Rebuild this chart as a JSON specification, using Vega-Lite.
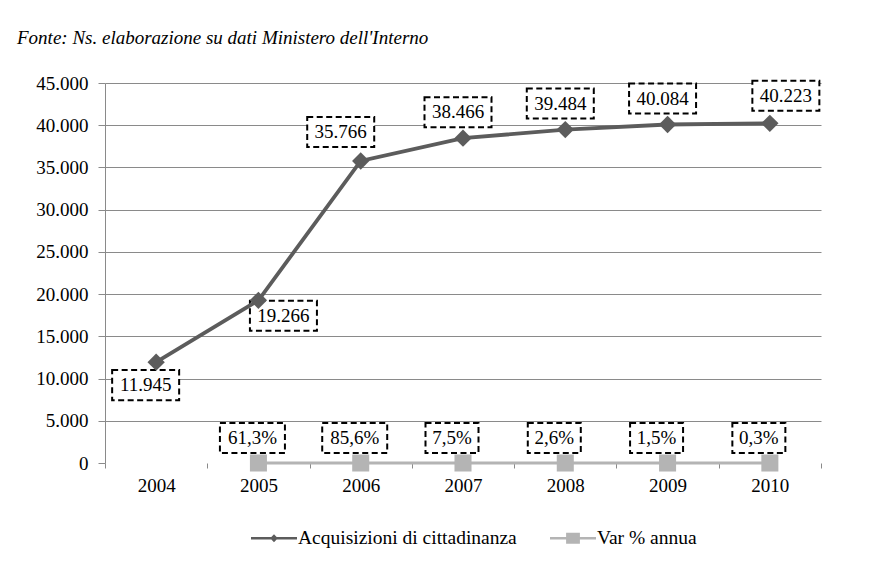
{
  "$schema": "https://vega.github.io/schema/vega-lite/v6.json",
  "config": {
    "locale": {"number": {"decimal": ",", "thousands": ".", "grouping": [3], "currency": ["€", ""]}},
    "font": "'Liberation Serif', 'Times New Roman', 'DejaVu Serif', serif",
    "view": {"stroke": null},
    "background": "white"
  },
  "autosize": {"type": "none"},
  "width": 716,
  "height": 380,
  "padding": {"left": 105, "top": 83, "right": 60, "bottom": 113},
  "title": {
    "text": "Fonte: Ns. elaborazione su dati Ministero dell'Interno",
    "anchor": "start",
    "frame": "group",
    "dx": -88,
    "offset": 26,
    "font": "'Liberation Serif', 'Times New Roman', 'DejaVu Serif', serif",
    "fontStyle": "italic",
    "fontWeight": "normal",
    "fontSize": 19,
    "color": "black"
  },
  "data": {
    "values": [
      {"year": "2004", "series": "Acquisizioni di cittadinanza", "value": 11945},
      {"year": "2005", "series": "Acquisizioni di cittadinanza", "value": 19266},
      {"year": "2006", "series": "Acquisizioni di cittadinanza", "value": 35766},
      {"year": "2007", "series": "Acquisizioni di cittadinanza", "value": 38466},
      {"year": "2008", "series": "Acquisizioni di cittadinanza", "value": 39484},
      {"year": "2009", "series": "Acquisizioni di cittadinanza", "value": 40084},
      {"year": "2010", "series": "Acquisizioni di cittadinanza", "value": 40223},
      {"year": "2005", "series": "Var % annua", "value": 0.613},
      {"year": "2006", "series": "Var % annua", "value": 0.856},
      {"year": "2007", "series": "Var % annua", "value": 0.075},
      {"year": "2008", "series": "Var % annua", "value": 0.026},
      {"year": "2009", "series": "Var % annua", "value": 0.015},
      {"year": "2010", "series": "Var % annua", "value": 0.003}
    ]
  },
  "encoding": {
    "x": {
      "field": "year",
      "type": "ordinal",
      "scale": {"type": "band", "paddingInner": 0, "paddingOuter": 0},
      "bandPosition": 0.5,
      "title": null,
      "axis": {
        "labelAngle": 0,
        "tickBand": "extent",
        "domain": false,
        "tickColor": "#8a8a8a",
        "tickSize": 5,
        "labelFont": "'Liberation Serif', 'Times New Roman', 'DejaVu Serif', serif",
        "labelFontSize": 19,
        "labelColor": "black",
        "labelPadding": 8
      }
    },
    "y": {
      "field": "value",
      "type": "quantitative",
      "scale": {"domain": [0, 45000], "nice": false},
      "title": null,
      "axis": {
        "values": [0, 5000, 10000, 15000, 20000, 25000, 30000, 35000, 40000, 45000],
        "format": ",.0f",
        "domainColor": "#8a8a8a",
        "tickColor": "#8a8a8a",
        "tickSize": 7,
        "gridColor": "#8a8a8a",
        "gridOpacity": {"condition": {"test": "datum.value === 0", "value": 0}, "value": 1},
        "labelFont": "'Liberation Serif', 'Times New Roman', 'DejaVu Serif', serif",
        "labelFontSize": 19,
        "labelColor": "black",
        "labelPadding": 10
      }
    }
  },
  "layer": [
    {
      "transform": [{"filter": "datum.series === 'Acquisizioni di cittadinanza' && datum.year === '2004'"}],
      "layer": [
        {"mark": {"type": "point", "shape": "M-1,-0.448L1,-0.448L1,0.448L-1,0.448Z", "size": 4489, "filled": false, "fill": "white", "fillOpacity": 1, "stroke": "black", "strokeWidth": 2, "strokeDash": [6, 3.5], "opacity": 1, "xOffset": -10.5, "yOffset": 23}},
        {"mark": {"type": "text", "dx": -10.5, "dy": 23, "fontSize": 19, "font": "'Liberation Serif', 'Times New Roman', 'DejaVu Serif', serif", "baseline": "middle", "align": "center", "color": "black"}, "encoding": {"text": {"field": "value", "type": "quantitative", "format": ",.0f"}}}
      ]
    },
    {
      "transform": [{"filter": "datum.series === 'Acquisizioni di cittadinanza' && datum.year === '2005'"}],
      "layer": [
        {"mark": {"type": "point", "shape": "M-1,-0.448L1,-0.448L1,0.448L-1,0.448Z", "size": 4489, "filled": false, "fill": "white", "fillOpacity": 1, "stroke": "black", "strokeWidth": 2, "strokeDash": [6, 3.5], "opacity": 1, "xOffset": 25, "yOffset": 15.5}},
        {"mark": {"type": "text", "dx": 25, "dy": 15.5, "fontSize": 19, "font": "'Liberation Serif', 'Times New Roman', 'DejaVu Serif', serif", "baseline": "middle", "align": "center", "color": "black"}, "encoding": {"text": {"field": "value", "type": "quantitative", "format": ",.0f"}}}
      ]
    },
    {
      "transform": [{"filter": "datum.series === 'Acquisizioni di cittadinanza' && datum.year === '2006'"}],
      "layer": [
        {"mark": {"type": "point", "shape": "M-1,-0.448L1,-0.448L1,0.448L-1,0.448Z", "size": 4489, "filled": false, "fill": "white", "fillOpacity": 1, "stroke": "black", "strokeWidth": 2, "strokeDash": [6, 3.5], "opacity": 1, "xOffset": -20, "yOffset": -29}},
        {"mark": {"type": "text", "dx": -20, "dy": -29, "fontSize": 19, "font": "'Liberation Serif', 'Times New Roman', 'DejaVu Serif', serif", "baseline": "middle", "align": "center", "color": "black"}, "encoding": {"text": {"field": "value", "type": "quantitative", "format": ",.0f"}}}
      ]
    },
    {
      "transform": [{"filter": "datum.series === 'Acquisizioni di cittadinanza' && (datum.year === '2007' || datum.year === '2008' || datum.year === '2009')"}],
      "layer": [
        {"mark": {"type": "point", "shape": "M-1,-0.448L1,-0.448L1,0.448L-1,0.448Z", "size": 4489, "filled": false, "fill": "white", "fillOpacity": 1, "stroke": "black", "strokeWidth": 2, "strokeDash": [6, 3.5], "opacity": 1, "xOffset": -5, "yOffset": -26}},
        {"mark": {"type": "text", "dx": -5, "dy": -26, "fontSize": 19, "font": "'Liberation Serif', 'Times New Roman', 'DejaVu Serif', serif", "baseline": "middle", "align": "center", "color": "black"}, "encoding": {"text": {"field": "value", "type": "quantitative", "format": ",.0f"}}}
      ]
    },
    {
      "transform": [{"filter": "datum.series === 'Acquisizioni di cittadinanza' && datum.year === '2010'"}],
      "layer": [
        {"mark": {"type": "point", "shape": "M-1,-0.448L1,-0.448L1,0.448L-1,0.448Z", "size": 4489, "filled": false, "fill": "white", "fillOpacity": 1, "stroke": "black", "strokeWidth": 2, "strokeDash": [6, 3.5], "opacity": 1, "xOffset": 16, "yOffset": -27.5}},
        {"mark": {"type": "text", "dx": 16, "dy": -27.5, "fontSize": 19, "font": "'Liberation Serif', 'Times New Roman', 'DejaVu Serif', serif", "baseline": "middle", "align": "center", "color": "black"}, "encoding": {"text": {"field": "value", "type": "quantitative", "format": ",.0f"}}}
      ]
    },
    {
      "transform": [{"filter": "datum.series === 'Var % annua' && (datum.year === '2005' || datum.year === '2006')"}],
      "layer": [
        {"mark": {"type": "point", "shape": "M-1,-0.4615L1,-0.4615L1,0.4615L-1,0.4615Z", "size": 4225, "filled": false, "fill": "white", "fillOpacity": 1, "stroke": "black", "strokeWidth": 2, "strokeDash": [6, 3.5], "opacity": 1, "xOffset": -6, "yOffset": -25}},
        {"mark": {"type": "text", "dx": -6, "dy": -25, "fontSize": 19, "font": "'Liberation Serif', 'Times New Roman', 'DejaVu Serif', serif", "baseline": "middle", "align": "center", "color": "black"}, "encoding": {"text": {"field": "value", "type": "quantitative", "format": ".1%"}}}
      ]
    },
    {
      "transform": [{"filter": "datum.series === 'Var % annua' && datum.year !== '2005' && datum.year !== '2006'"}],
      "layer": [
        {"mark": {"type": "point", "shape": "M-1,-0.566L1,-0.566L1,0.566L-1,0.566Z", "size": 2809, "filled": false, "fill": "white", "fillOpacity": 1, "stroke": "black", "strokeWidth": 2, "strokeDash": [6, 3.5], "opacity": 1, "xOffset": -11, "yOffset": -25}},
        {"mark": {"type": "text", "dx": -11, "dy": -25, "fontSize": 19, "font": "'Liberation Serif', 'Times New Roman', 'DejaVu Serif', serif", "baseline": "middle", "align": "center", "color": "black"}, "encoding": {"text": {"field": "value", "type": "quantitative", "format": ".1%"}}}
      ]
    },
    {
      "transform": [{"filter": "datum.series === 'Var % annua'"}],
      "mark": {"type": "line", "strokeWidth": 3, "color": "#b4b4b4"}
    },
    {
      "transform": [{"filter": "datum.series === 'Acquisizioni di cittadinanza'"}],
      "mark": {"type": "line", "strokeWidth": 3.8, "color": "#5c5c5c"}
    },
    {
      "transform": [{"filter": "datum.series === 'Acquisizioni di cittadinanza'"}],
      "mark": {"type": "point", "filled": true, "size": 300, "opacity": 1, "shape": "diamond", "color": "#5c5c5c"}
    },
    {
      "transform": [{"filter": "datum.series === 'Var % annua'"}],
      "mark": {"type": "point", "filled": true, "size": 290, "opacity": 1, "shape": "square", "color": "#b4b4b4"}
    },
    {
      "transform": [{"filter": "datum.year === 'none'"}],
      "mark": {"type": "point", "filled": true, "opacity": 1, "strokeWidth": 0},
      "encoding": {
        "color": {
          "field": "series",
          "type": "nominal",
          "scale": {"domain": ["Acquisizioni di cittadinanza", "Var % annua"], "range": ["#5c5c5c", "#b4b4b4"]},
          "legend": {
            "orient": "none",
            "legendX": 146,
            "legendY": 432,
            "direction": "horizontal",
            "title": null,
            "symbolSize": 2116,
            "labelFont": "'Liberation Serif', 'Times New Roman', 'DejaVu Serif', serif",
            "labelFontSize": 19.5,
            "labelColor": "black",
            "labelLimit": 400,
            "columnPadding": 33,
            "labelOffset": 1,
            "symbolStrokeWidth": 0
          }
        },
        "shape": {
          "field": "series",
          "type": "nominal",
          "scale": {
            "domain": ["Acquisizioni di cittadinanza", "Var % annua"],
            "range": [
              "M-1,-0.055L-0.115,-0.055L0,-0.17L0.115,-0.055L1,-0.055L1,0.055L0.115,0.055L0,0.17L-0.115,0.055L-1,0.055Z",
              "M-1,-0.055L-0.3,-0.055L-0.3,-0.24L0.3,-0.24L0.3,-0.055L1,-0.055L1,0.055L0.3,0.055L0.3,0.24L-0.3,0.24L-0.3,0.055L-1,0.055Z"
            ]
          },
          "legend": {
            "orient": "none",
            "legendX": 146,
            "legendY": 432,
            "direction": "horizontal",
            "title": null,
            "symbolSize": 2116,
            "labelFont": "'Liberation Serif', 'Times New Roman', 'DejaVu Serif', serif",
            "labelFontSize": 19.5,
            "labelColor": "black",
            "labelLimit": 400,
            "columnPadding": 33,
            "labelOffset": 1,
            "symbolStrokeWidth": 0
          }
        }
      }
    }
  ]
}
